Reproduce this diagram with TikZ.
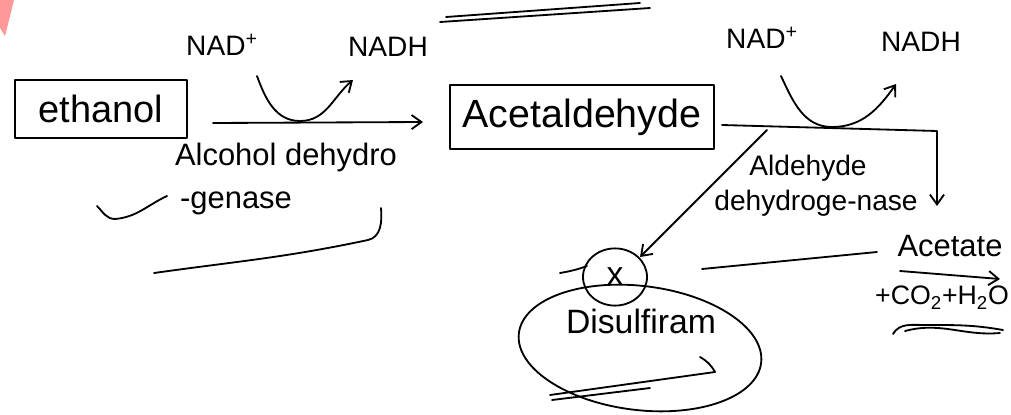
\documentclass[tikz,border=0pt]{standalone}
\usepackage{fontspec}
\setmainfont{Liberation Sans}
\usetikzlibrary{arrows.meta, shapes.geometric}
\tikzset{
    pen/.style={line width=1.3pt, line cap=round, line join=round},
    hand/.style={font=\fontsize{#1}{#1}\selectfont, inner sep=1pt},
    boxed/.style={pen, draw, inner sep=0pt},
}

\begin{document}
\begin{tikzpicture}[x=0.025cm, y=-0.025cm,
    >={Straight Barb[length=7pt, width=10pt]}]
    \useasboundingbox (0,0) rectangle (1011,414);
    \fill[red!40] (0,0) -- (14,0) -- (5,36) -- (0,28) -- cycle;

    % ethanol -> acetaldehyde
    \coordinate (A1) at (213,123);
    \coordinate (A2) at (423,122);
    \coordinate (U1) at (257,76);
    \coordinate (U2) at (300,121);
    \coordinate (U3) at (353,80);
    % acetaldehyde -> acetate, and the blocked branch
    \coordinate (B1) at (722,125);
    \coordinate (B2) at (937,131);
    \coordinate (B3) at (937,206);
    \coordinate (V1) at (781,76);
    \coordinate (V2) at (832,127);
    \coordinate (V3) at (896,84);
    \coordinate (D1) at (767,130);
    \coordinate (D2) at (640,257);

    \node[boxed, minimum width=4.3cm, minimum height=1.45cm, hand=27] (ethanol) at (101,109) {ethanol};
    \node[boxed, minimum width=6.6cm, minimum height=1.62cm, hand=28] (acetald) at (582,117) {Acetaldehyde};

    \node[hand=20] (nad1) at (222,45) {NAD\textsuperscript{+}};
    \node[hand=20] (nadh1) at (388,47) {NADH};
    \node[hand=20] (nad2) at (762,38) {NAD\textsuperscript{+}};
    \node[hand=20] (nadh2) at (921,42) {NADH};

    \node[hand=22] (adh1) at (286,157) {Alcohol dehydro};
    \node[hand=22] (adh2) at (236,203) {-genase};
    \node[hand=20] (aldh1) at (808,168) {Aldehyde};
    \node[hand=20] (aldh2) at (816,203) {dehydroge-nase};

    \node[hand=22] (acetate) at (950,246) {Acetate};
    \node[hand=19] (coh) at (942,298) {+CO\textsubscript{2}+H\textsubscript{2}O};

    \node[pen, draw, ellipse, minimum width=1.6cm, minimum height=1.43cm, inner sep=0pt, hand=24] (block) at (615,277) {x};
    \node[hand=24] (disulf) at (641,321) {Disulfiram};
    \node[pen, draw, ellipse, rotate=-7, minimum width=6.1cm, minimum height=3.1cm] (ring) at (640,348) {};

    % reactions
    \draw[pen,->] (A1) -- (A2);
    \draw[pen,->] (U1) to[out=-70,in=180] (U2) to[out=0,in=-140] (U3);
    \draw[pen,->] (B1) -- (B2) -- (B3);
    \draw[pen,->] (V1) to[out=-65,in=180] (V2) to[out=0,in=-125] (V3);
    \draw[pen,->] (D1) -- (D2);

    % strokes under the labels
    \draw[pen] (440,22) -- (650,8);
    \draw[pen] (446,17) -- (640,3);
    \draw[pen] (97,206) to[out=-45,in=180] (115,219) to[out=5,in=205] (167,196);
    \draw[pen] (154,273) to[out=8,in=192] (368,240) to[out=12,in=-85] (381,208);
    \draw[pen] (702,269) -- (877,252);
    \draw[pen,->] (900,271) -- (1000,279);
    \draw[pen] (893,334) to[out=60,in=180] (925,325) to[out=0,in=170] (1003,330);
    \draw[pen] (905,331) to[out=15,in=185] (1000,333);
    \draw[pen] (560,273) to[out=10,in=200] (587,266);
    \draw[pen] (550,395) -- (715,372) to[out=120,in=-30] (700,357);
    \draw[pen] (552,400) -- (650,388);
\end{tikzpicture}
\end{document}
